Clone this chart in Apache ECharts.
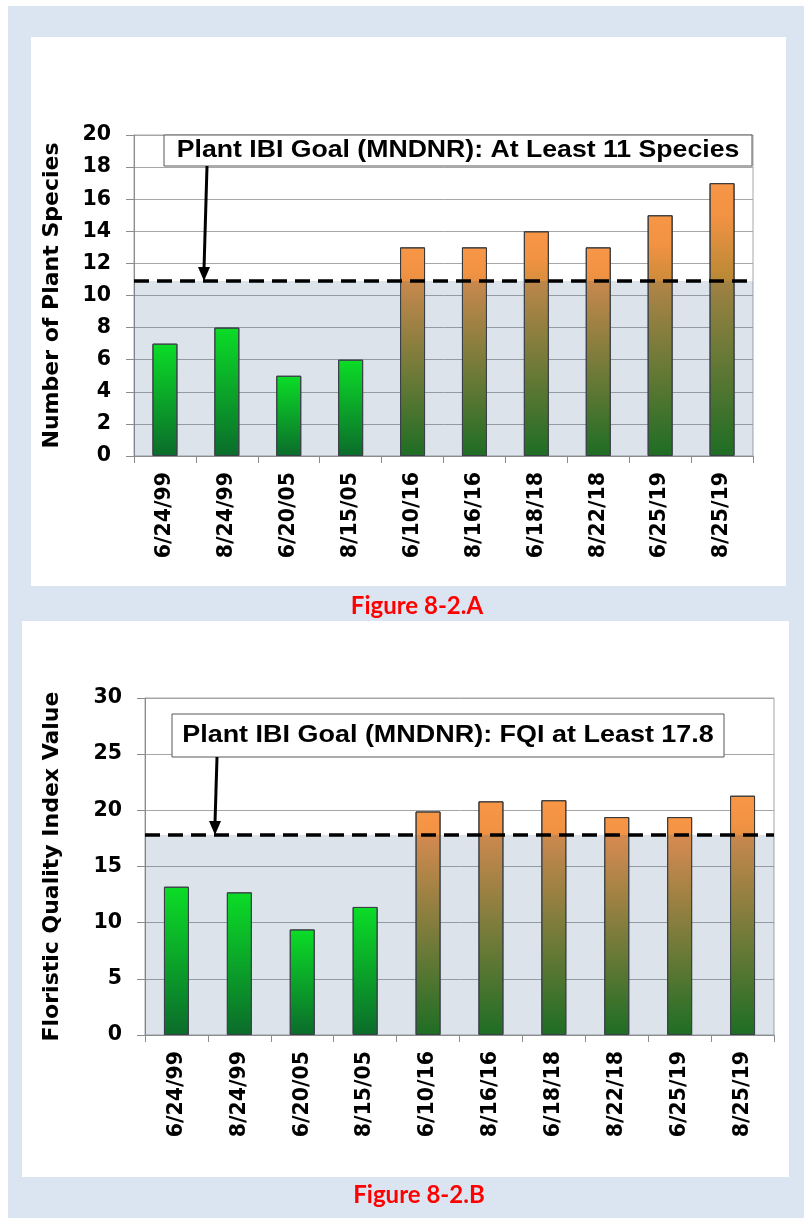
<!DOCTYPE html>
<html>
<head>
<meta charset="utf-8">
<script src="https://cdn.jsdelivr.net/npm/echarts@6/dist/echarts.min.js"></script>
<style>
  html, body { margin: 0; padding: 0; background: #ffffff; }
  #page { position: relative; width: 804px; height: 1224px; overflow: hidden; }
  .bg { position: absolute; left: 8px; top: 6px; width: 796px; height: 1212px; background: #dbe5f1; }
  .panel { position: absolute; background: #ffffff; }
  #chart { position: absolute; left: 0; top: 0; width: 804px; height: 1224px; }
</style>
</head>
<body>
<div id="page">
  <div class="bg"></div>
  <div class="panel" style="left:31px;top:37px;width:755px;height:549px;"></div>
  <div class="panel" style="left:22px;top:621px;width:767px;height:556px;"></div>
  <div id="chart"></div>
</div>
<script>
// ---- data ----
const categories = ['6/24/99', '8/24/99', '6/20/05', '8/15/05', '6/10/16', '8/16/16', '6/18/18', '8/22/18', '6/25/19', '8/25/19'];
const surveyGroup = ['early', 'early', 'early', 'early', 'recent', 'recent', 'recent', 'recent', 'recent', 'recent'];
const speciesCounts = [7, 8, 5, 6, 13, 13, 14, 13, 15, 17];
const fqiValues = [13.2, 12.7, 9.4, 11.4, 19.9, 20.8, 20.9, 19.4, 19.4, 21.3];
const speciesGoal = 10.9;
const fqiGoal = 17.8;
const speciesAxis = { min: 0, max: 20, interval: 2 };
const fqiAxis = { min: 0, max: 30, interval: 5 };
const speciesGoalText = 'Plant IBI Goal (MNDNR): At Least 11 Species';
const fqiGoalText = 'Plant IBI Goal (MNDNR): FQI at Least 17.8';
const captionA = 'Figure 8-2.A';
const captionB = 'Figure 8-2.B';
const yNameA = 'Number of Plant Species';
const yNameB = 'Floristic Quality Index Value';

// ---- styles ----
const AXFONT = '"DejaVu Sans", sans-serif';
const BOXFONT = '"Liberation Sans", Arial, sans-serif';
const greenFill = new echarts.graphic.LinearGradient(0, 0, 0, 1, [
  { offset: 0, color: '#00f812' },
  { offset: 1, color: '#006e16' }
]);
const orangeFill = new echarts.graphic.LinearGradient(0, 0, 0, 1, [
  { offset: 0, color: '#f79646' },
  { offset: 0.12, color: '#f29243' },
  { offset: 1, color: '#18700e' }
]);
function barData(values) {
  return values.map((v, i) => ({
    value: v,
    itemStyle: { color: surveyGroup[i] === 'early' ? greenFill : orangeFill }
  }));
}
const gridColor = '#a6a6a6';
const axisColor = '#8c8c8c';

function xAxisFor(gridIndex) {
  return {
    type: 'category', gridIndex: gridIndex, data: categories,
    axisLine: { lineStyle: { color: axisColor, width: 1 } },
    axisTick: { show: true, length: 7, lineStyle: { color: axisColor } },
    axisLabel: { rotate: 90, margin: 16, color: '#000', fontFamily: AXFONT, fontWeight: 'bold', fontSize: 20.5 },
    splitLine: { show: false }
  };
}
function yAxisFor(gridIndex, ax, name, gap) {
  return {
    type: 'value', gridIndex: gridIndex, min: ax.min, max: ax.max, interval: ax.interval,
    name: name, nameLocation: 'middle', nameGap: gap, nameRotate: 90,
    nameTextStyle: { color: '#000', fontFamily: AXFONT, fontWeight: 'bold', fontSize: 22 },
    axisLine: { show: true, lineStyle: { color: axisColor, width: 1 } },
    axisTick: { show: true, length: 8, lineStyle: { color: axisColor } },
    axisLabel: { margin: 23, color: '#000', fontFamily: AXFONT, fontWeight: 'bold', fontSize: 20.5 },
    splitLine: { show: true, lineStyle: { color: gridColor, width: 1 } }
  };
}
function goalSeries(idx, goal) {
  return {
    type: 'line', xAxisIndex: idx, yAxisIndex: idx, data: [], z: 5, silent: true,
    markArea: {
      silent: true, z: 6,
      itemStyle: { color: 'rgba(60,100,140,0.18)' },
      data: [[{ yAxis: 0 }, { yAxis: goal }]]
    },
    markLine: {
      silent: true, z: 7, symbol: 'none', label: { show: false },
      lineStyle: { color: '#000', type: [15, 8], width: 3.5 },
      data: [{ yAxis: goal }]
    }
  };
}

const chart = echarts.init(document.getElementById('chart'), null, { renderer: 'canvas' });
const option = {
  backgroundColor: 'transparent',
  animation: false,
  grid: [
    { left: 134, top: 135, width: 619, height: 321, show: true, borderColor: gridColor, borderWidth: 1, backgroundColor: 'transparent' },
    { left: 145, top: 698, width: 629, height: 337, show: true, borderColor: gridColor, borderWidth: 1, backgroundColor: 'transparent' }
  ],
  xAxis: [xAxisFor(0), xAxisFor(1)],
  yAxis: [yAxisFor(0, speciesAxis, yNameA, 71), yAxisFor(1, fqiAxis, yNameB, 82)],
  series: [
    { type: 'bar', xAxisIndex: 0, yAxisIndex: 0, barWidth: 25, data: barData(speciesCounts),
      itemStyle: { borderColor: '#3a3a3a', borderWidth: 1 }, z: 3 },
    goalSeries(0, speciesGoal),
    { type: 'bar', xAxisIndex: 1, yAxisIndex: 1, barWidth: 25, data: barData(fqiValues),
      itemStyle: { borderColor: '#3a3a3a', borderWidth: 1 }, z: 3 },
    goalSeries(1, fqiGoal)
  ]
};
chart.setOption(option);

// annotation boxes, arrows and captions
const tipA = chart.convertToPixel({ yAxisIndex: 0 }, speciesGoal);
const tipB = chart.convertToPixel({ yAxisIndex: 1 }, fqiGoal);
function arrow(x0, y0, x1, y1) {
  return [
    { type: 'line', z: 120, shape: { x1: x0, y1: y0, x2: x1, y2: y1 - 12 }, style: { stroke: '#000', lineWidth: 3 } },
    { type: 'polygon', z: 120, shape: { points: [[x1 - 6, y1 - 14], [x1 + 6, y1 - 14], [x1, y1]] }, style: { fill: '#000' } }
  ];
}
function box(x, y, w, h, text, size, sx) {
  return [
    { type: 'rect', z: 110, shape: { x: x, y: y, width: w, height: h },
      style: { fill: '#ffffff', stroke: '#595959', lineWidth: 1 } },
    { type: 'text', z: 111, x: x + w / 2, y: y + h / 2, scaleX: sx,
      style: { text: text, fill: '#000', font: 'bold ' + size + 'px ' + BOXFONT, align: 'center', verticalAlign: 'middle' } }
  ];
}
const graphics = []
  .concat(box(164, 135, 588, 31, speciesGoalText, 24, 1.11))
  .concat(arrow(207, 166, 204, tipA))
  .concat(box(172, 714, 552, 43, fqiGoalText, 24.5, 1.1))
  .concat(arrow(217, 757, 215, tipB))
  .concat([
    { type: 'text', z: 120, x: 417, y: 606, style: { text: captionA, fill: '#ff0000', font: 'bold 24px Lato, "Open Sans", sans-serif', align: 'center', verticalAlign: 'middle' } },
    { type: 'text', z: 120, x: 419, y: 1195, style: { text: captionB, fill: '#ff0000', font: 'bold 24px Lato, "Open Sans", sans-serif', align: 'center', verticalAlign: 'middle' } }
  ]);
chart.setOption({ graphic: { elements: graphics } });
</script>
</body>
</html>
